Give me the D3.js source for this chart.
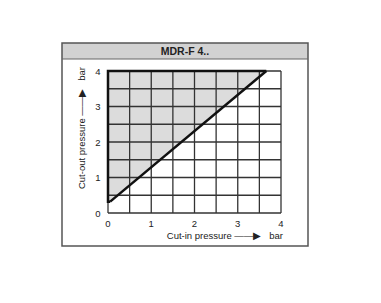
<!DOCTYPE html>
<html>
<head>
<meta charset="utf-8">
<script src="https://cdn.jsdelivr.net/npm/d3@7.9.0/dist/d3.min.js"></script>
<style>
  body { margin: 0; background: #fff; }
  text { font-family: "Liberation Sans", Arial, sans-serif; fill: #222; }
</style>
</head>
<body>
<div id="chart"></div>
<script>
// chart content
const title = "MDR-F 4..";
const xLabel = "Cut-in pressure \u2014\u2014\u25B6   bar";
const yLabel = "Cut-out pressure \u2014\u2014\u25B6   bar";
const xTicks = [0, 1, 2, 3, 4];
const yTicks = [0, 1, 2, 3, 4];
const gridSteps = [0, 0.5, 1, 1.5, 2, 2.5, 3, 3.5, 4];
// switching line (cut-in, cut-out)
const lineX = [0.05, 3.66];
const lineY = [0.32, 4];

const W = 381, H = 303;
const svg = d3.select("#chart").append("svg")
    .attr("width", W)
    .attr("height", H);

// outer frame + header
const box = { x: 62, y: 43, w: 246, h: 203, head: 16 };
svg.append("rect")
    .attr("x", box.x).attr("y", box.y)
    .attr("width", box.w).attr("height", box.head)
    .attr("fill", "#d2d2d2");
svg.append("rect")
    .attr("x", box.x).attr("y", box.y)
    .attr("width", box.w).attr("height", box.h)
    .attr("fill", "none").attr("stroke", "#555").attr("stroke-width", 1.5);
svg.append("line")
    .attr("x1", box.x).attr("x2", box.x + box.w)
    .attr("y1", box.y + box.head).attr("y2", box.y + box.head)
    .attr("stroke", "#666").attr("stroke-width", 1.2);
svg.append("text")
    .attr("x", box.x + box.w / 2).attr("y", box.y + 12)
    .attr("text-anchor", "middle")
    .style("font-size", "10.5px").style("font-weight", "bold")
    .text(title);

const x = d3.scaleLinear().domain([0, 4]).range([108, 281]);
const y = d3.scaleLinear().domain([0, 4]).range([213, 71]);

// shaded region above the line
const shade = [
    [0, lineY[0]], [lineX[0], lineY[0]], [lineX[1], lineY[1]], [0, 4]
];
svg.append("path")
    .attr("d", d3.line().x(d => x(d[0])).y(d => y(d[1]))(shade) + "Z")
    .attr("fill", "#dcdcdc");

// grid
const grid = svg.append("g").attr("stroke", "#333").attr("stroke-width", 1.3);
grid.selectAll(".v").data(gridSteps).join("line")
    .attr("x1", d => x(d)).attr("x2", d => x(d))
    .attr("y1", y(0)).attr("y2", y(4));
grid.selectAll(".h").data(gridSteps).join("line")
    .attr("x1", x(0)).attr("x2", x(4))
    .attr("y1", d => y(d)).attr("y2", d => y(d));

// thick boundary of the shaded region
svg.append("path")
    .attr("d", d3.line().x(d => x(d[0])).y(d => y(d[1]))([
        [lineX[0], lineY[0]], [0, lineY[0]], [0, 4], [lineX[1], lineY[1]]
    ]))
    .attr("fill", "none").attr("stroke", "#111").attr("stroke-width", 2.5);
svg.append("line")
    .attr("x1", x(lineX[0])).attr("y1", y(lineY[0]))
    .attr("x2", x(lineX[1])).attr("y2", y(lineY[1]))
    .attr("stroke", "#111").attr("stroke-width", 2.5);

// tick labels
svg.selectAll(".xt").data(xTicks).join("text")
    .attr("x", d => x(d)).attr("y", y(0) + 14)
    .attr("text-anchor", "middle")
    .style("font-size", "9.5px")
    .text(d => d);
svg.selectAll(".yt").data(yTicks).join("text")
    .attr("x", x(0) - 10).attr("y", d => y(d) + 3.5)
    .attr("text-anchor", "middle")
    .style("font-size", "9.5px")
    .text(d => d);

// axis titles
svg.append("text")
    .attr("x", 283).attr("y", 239)
    .attr("text-anchor", "end")
    .style("font-size", "9.5px")
    .style("white-space", "pre")
    .text(xLabel);
svg.append("text")
    .attr("transform", "translate(85,67) rotate(-90)")
    .attr("text-anchor", "end")
    .style("font-size", "9.5px")
    .style("white-space", "pre")
    .text(yLabel);
</script>
</body>
</html>
